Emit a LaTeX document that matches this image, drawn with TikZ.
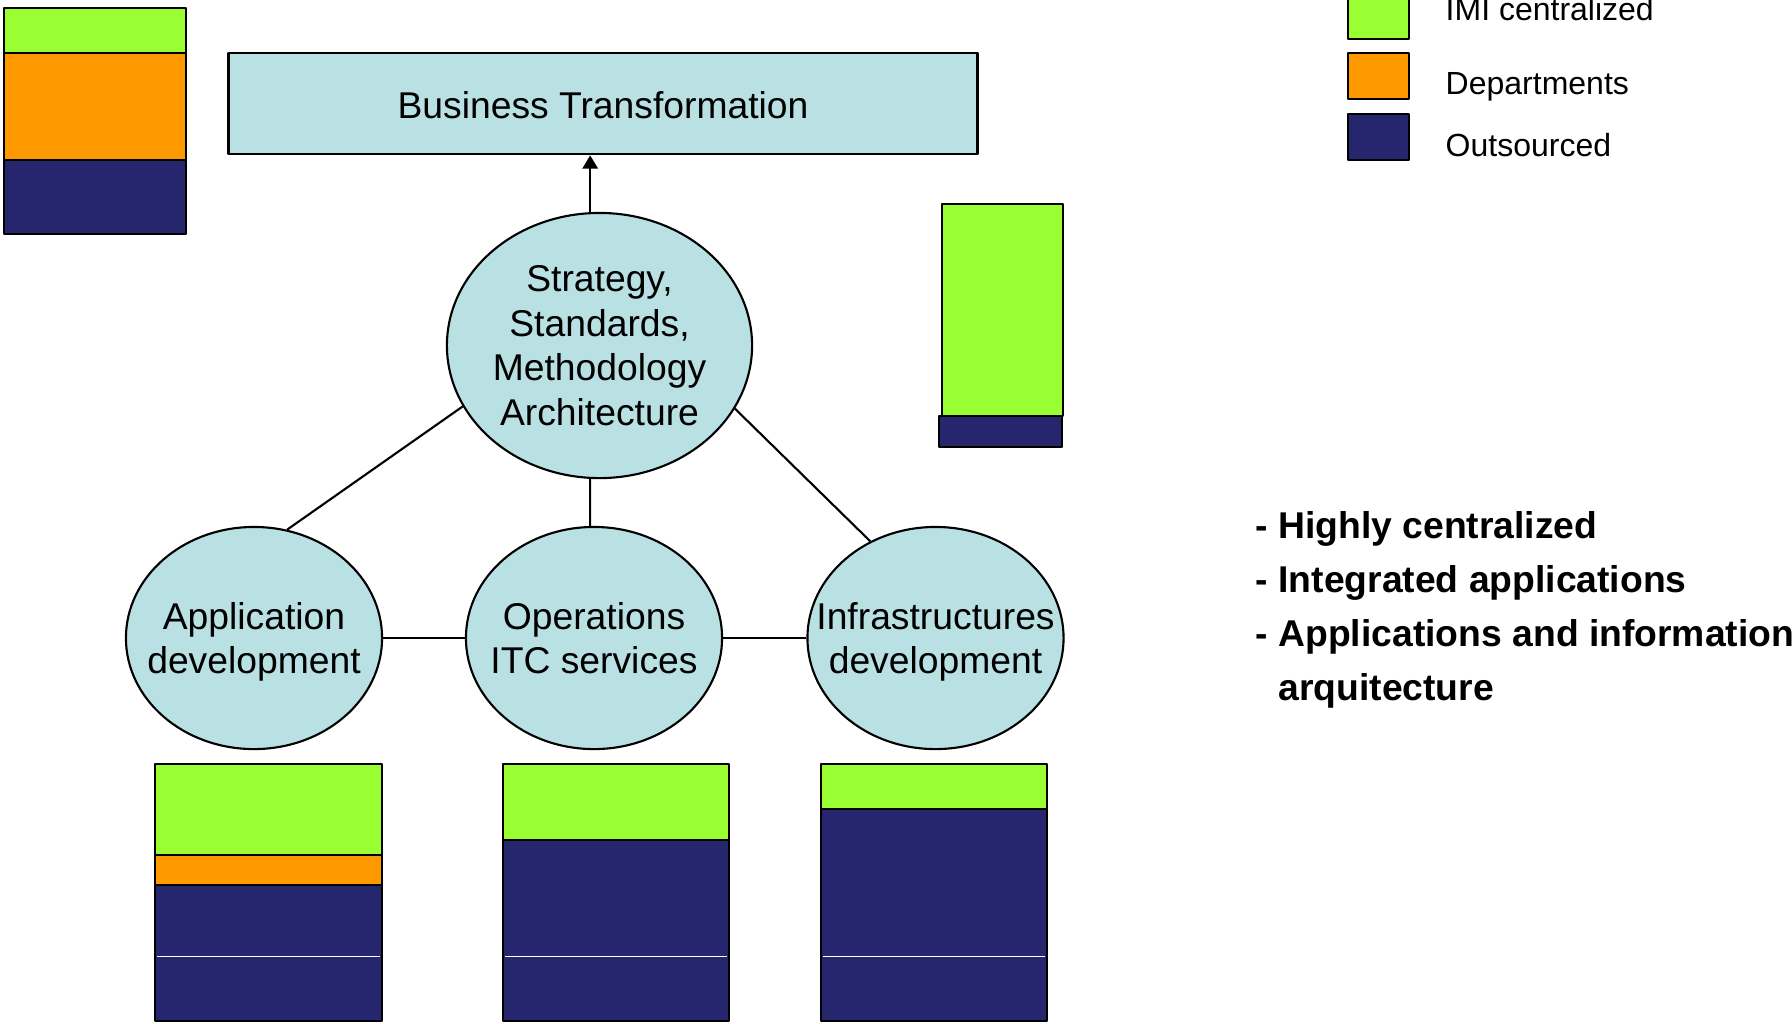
\documentclass[tikz,border=0pt]{standalone}
\usepackage{fontspec}
\setmainfont{Liberation Sans}
\usetikzlibrary{arrows.meta,shapes.geometric}
\definecolor{imigreen}{RGB}{153,255,51}
\definecolor{deporange}{RGB}{255,153,0}
\definecolor{outnavy}{RGB}{38,38,110}
\definecolor{bubblecol}{RGB}{185,224,227}

\begin{document}
\begin{tikzpicture}[x=0.01cm,y=-0.01cm,>={Triangle[width=4.4pt,length=3.8pt]},line join=round,
	font=\fontsize{10.6}{12.75}\selectfont,
	bubble/.style={ellipse,draw,line width=0.6pt,fill=bubblecol,inner sep=-1cm,text depth=0pt,align=center,minimum width=2.56cm,minimum height=2.22cm},
	seg/.style={draw,line width=0.75pt},
	legtext/.style={anchor=base west,inner sep=0pt,font=\fontsize{9.1}{11}\selectfont},
	note/.style={anchor=base west,inner sep=0pt,font=\bfseries\fontsize{10.6}{12.75}\selectfont}]
	\clip (0,0) rectangle (1792,1023);
	% share bars
	\foreach \xa/\xb/\ya/\yb/\c in {4/186/8/53/imigreen,4/186/53/160/deporange,4/186/160/234/outnavy,
		942/1063/204/416/imigreen,939/1062/416/447/outnavy,
		155/382/764/855/imigreen,155/382/855/885/deporange,155/382/885/1021/outnavy,
		503/729/764/840/imigreen,503/729/840/1021/outnavy,
		821/1047/764/809/imigreen,821/1047/809/1021/outnavy,
		1348/1409/-8/39/imigreen,1348/1409/53/99/deporange,1348/1409/114/160/outnavy}
		\filldraw[seg,fill=\c] (\xa,\ya) rectangle (\xb,\yb);
	\foreach \xa/\xb in {157/380,505/727,823/1045}
		\draw[white,line width=0.3pt] (\xa,956) -- (\xb,956);
	% legend
	\node[legtext] (imi) at (1445,20) {IMI centralized};
	\node[legtext] (dep) at (1445,94) {Departments};
	\node[legtext] (outs) at (1445,156) {Outsourced};
	% boxes
	\node[seg,fill=bubblecol,minimum width=7.48cm,minimum height=1.01cm,inner sep=0pt,text height=8.8pt,text depth=0pt] (bt) at (603,103.5) {Business Transformation};
	\node[bubble,minimum width=3.05cm,minimum height=2.65cm] (strat) at (599.5,345.5) {Strategy,\\Standards,\\Methodology\\Architecture};
	\node[bubble] (appdev) at (254,638) {Application\\development};
	\node[bubble] (ops) at (594,638) {Operations\\ITC services};
	\node[bubble] (infra) at (935.5,638) {Infrastructures\\development};
	% links
	\draw[->,line width=0.6pt] (strat.94) -- (strat.94 |- bt.south);
	\draw[line width=0.6pt] (strat.204.5) -- (appdev.73.4);
	\draw[line width=0.6pt] (strat.266) -- (ops.92);
	\draw[line width=0.6pt] (strat.335.3) -- (infra.124);
	\draw[line width=0.6pt] (appdev) -- (ops);
	\draw[line width=0.6pt] (ops) -- (infra);
	% notes
	\foreach \t [count=\i] in {- Highly centralized,- Integrated applications,- Applications and information,\hphantom{- }arquitecture}
		\node[note] (note\i) at (1255,{484+54*\i}) {\t};
\end{tikzpicture}
\end{document}
